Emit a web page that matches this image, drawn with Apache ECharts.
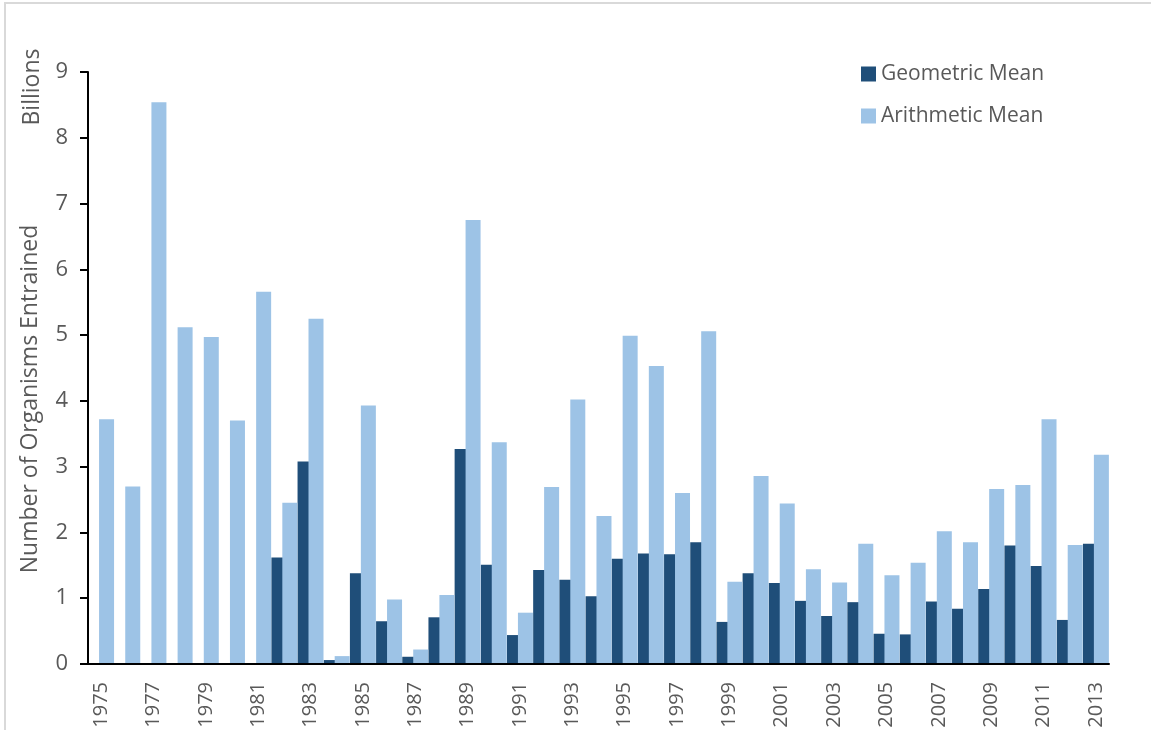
<!DOCTYPE html>
<html>
<head>
<meta charset="utf-8">
<script src="https://cdn.jsdelivr.net/npm/echarts@6/dist/echarts.min.js"></script>
<style>
html,body{margin:0;padding:0;background:#fff;}
#chart{width:1151px;height:730px;}
</style>
</head>
<body>
<div id="chart"></div>
<script>
const years = ['1975','1976','1977','1978','1979','1980','1981','1982','1983','1984','1985','1986','1987','1988','1989','1990','1991','1992','1993','1994','1995','1996','1997','1998','1999','2000','2001','2002','2003','2004','2005','2006','2007','2008','2009','2010','2011','2012','2013'];
const geometricMean = ['-','-','-','-','-','-','-',1.62,3.08,0.06,1.38,0.65,0.11,0.71,3.27,1.51,0.44,1.43,1.28,1.03,1.60,1.68,1.67,1.85,0.64,1.38,1.23,0.96,0.73,0.94,0.46,0.45,0.95,0.84,1.14,1.80,1.49,0.67,1.83];
const arithmeticMean = [3.72,2.70,8.54,5.12,4.97,3.70,5.66,2.45,5.25,0.12,3.93,0.98,0.22,1.05,6.75,3.37,0.78,2.69,4.02,2.25,4.99,4.53,2.60,5.06,1.25,2.86,2.44,1.44,1.24,1.83,1.35,1.54,2.02,1.85,2.66,2.72,3.72,1.81,3.18];
const yTicks = [0,1,2,3,4,5,6,7,8,9];

const font = '"Open Sans", "Noto Sans", sans-serif';
const chart = echarts.init(document.getElementById('chart'));
chart.setOption({
  animation: false,
  backgroundColor: '#ffffff',
  textStyle: {fontFamily: font},
  grid: {left: 88, right: 42, top: 72, bottom: 66, containLabel: false, outerBoundsMode: 'none'},
  legend: {
    orient: 'vertical',
    top: 58,
    left: 856,
    itemWidth: 15,
    itemHeight: 15,
    itemGap: 20,
    icon: 'rect',
    textStyle: {color: '#595959', fontSize: 21, lineHeight: 22, fontFamily: font},
    data: ['Geometric Mean', 'Arithmetic Mean']
  },
  xAxis: {
    type: 'category',
    data: years,
    z: 10,
    axisLine: {lineStyle: {color: '#000000', width: 2}},
    axisTick: {show: false},
    axisLabel: {
      interval: 1,
      rotate: 90,
      color: '#595959',
      fontSize: 20,
      margin: 18,
      fontFamily: font,
      hideOverlap: false
    }
  },
  yAxis: {
    type: 'value',
    min: 0,
    max: 9,
    interval: 1,
    z: 10,
    axisLine: {show: true, lineStyle: {color: '#000000', width: 2}},
    axisTick: {show: true, length: 8, lineStyle: {color: '#000000', width: 2}},
    splitLine: {show: false},
    axisLabel: {
      color: '#595959',
      fontSize: 22,
      margin: 20,
      fontFamily: font,
      formatter: v => yTicks.includes(v) ? String(v) : ''
    }
  },
  graphic: [
    {
      type: 'rect',
      shape: {x: 5, y: 3, width: 1160, height: 760},
      style: {fill: 'none', stroke: '#d9d9d9', lineWidth: 2},
      silent: true
    },
    {
      type: 'text',
      x: 30, y: 399,
      rotation: Math.PI / 2,
      style: {text: 'Number of Organisms Entrained', fill: '#595959', fontSize: 23, fontFamily: font, align: 'center', verticalAlign: 'middle'}
    },
    {
      type: 'text',
      x: 32, y: 87,
      rotation: Math.PI / 2,
      style: {text: 'Billions', fill: '#595959', fontSize: 23, fontFamily: font, align: 'center', verticalAlign: 'middle'}
    }
  ],
  series: [
    {
      name: 'Geometric Mean',
      type: 'bar',
      data: geometricMean,
      barWidth: 15,
      barGap: '-27%',
      itemStyle: {color: '#1F4E79'}
    },
    {
      name: 'Arithmetic Mean',
      type: 'bar',
      data: arithmeticMean,
      barWidth: 15,
      barGap: '-27%',
      itemStyle: {color: '#9DC3E6'}
    }
  ]
});
</script>
</body>
</html>
